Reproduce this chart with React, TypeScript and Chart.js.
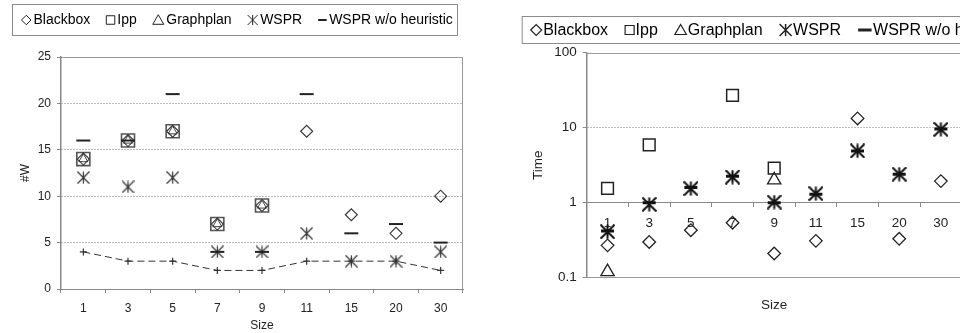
import React, { useEffect, useRef } from "react";
import { Chart, registerables } from "chart.js";

Chart.register(...registerables);

const FONT = "'Liberation Sans', Arial, Helvetica, sans-serif";
Chart.defaults.font.family = FONT;

// ---- shared categories / names ----
const sizeLabels = ["1", "3", "5", "7", "9", "11", "15", "20", "30"];
const seriesNames = ["Blackbox", "Ipp", "Graphplan", "WSPR", "WSPR w/o heuristic"];

// ---- left chart: #W ----
const wBlackbox = [14, 16, 17, 7, 9, 17, 8, 6, 10];
const wIpp = [14, 16, 17, 7, 9, null, null, null, null];
const wGraphplan = [14, 16, 17, 7, 9, null, null, null, null];
const wWSPR = [12, 11, 12, 4, 4, 6, 3, 3, 4];
const wWSPRNoHeur = [16, 16, 21, 4, 4, 21, 6, 7, 5];
const wLowerBound = [4, 3, 3, 2, 2, 3, 3, 3, 2];
const wTickMin = 0;
const wTickMax = 25;
const wTickStep = 5;

// ---- right chart: Time (log) ----
const tBlackbox = [0.27, 0.3, 0.43, 0.54, 0.21, 0.31, 13.3, 0.33, 1.94];
const tIpp = [1.55, 5.9, null, 27, 2.9, null, null, null, null];
const tGraphplan = [0.12, null, null, null, 2.0, null, null, null, null];
const tWSPR = [0.41, 0.95, 1.54, 2.2, 1.02, 1.32, 4.9, 2.4, 9.5];
const tWSPRNoHeur = [0.42, 1.0, 1.6, 2.25, 1.0, 1.3, 4.9, 2.4, 9.6];
const tTicks = [0.1, 1, 10, 100];

function makeAsterisk(size: number, lw: number, color: string) {
  const c = document.createElement("canvas");
  c.width = size;
  c.height = size;
  const ctx = c.getContext("2d")!;
  ctx.strokeStyle = color;
  ctx.lineWidth = lw;
  const m = 0.5;
  ctx.beginPath();
  ctx.moveTo(size / 2, m);
  ctx.lineTo(size / 2, size - m);
  ctx.moveTo(m, m);
  ctx.lineTo(size - m, size - m);
  ctx.moveTo(size - m, m);
  ctx.lineTo(m, size - m);
  ctx.stroke();
  return c;
}

function drawMarker(ctx: CanvasRenderingContext2D, kind: string, x: number, y: number, s: number, lw: number, color: string) {
  const h = s / 2;
  ctx.save();
  ctx.strokeStyle = color;
  ctx.lineWidth = lw;
  ctx.beginPath();
  if (kind === "diamond") {
    ctx.moveTo(x - h, y);
    ctx.lineTo(x, y - h);
    ctx.lineTo(x + h, y);
    ctx.lineTo(x, y + h);
    ctx.closePath();
  } else if (kind === "square") {
    ctx.rect(x - h, y - h, s, s);
  } else if (kind === "triangle") {
    const th = s * 0.87;
    ctx.moveTo(x, y - th * 0.55);
    ctx.lineTo(x + h, y + th * 0.45);
    ctx.lineTo(x - h, y + th * 0.45);
    ctx.closePath();
  } else if (kind === "asterisk") {
    ctx.moveTo(x, y - h);
    ctx.lineTo(x, y + h);
    ctx.moveTo(x - h, y - h);
    ctx.lineTo(x + h, y + h);
    ctx.moveTo(x + h, y - h);
    ctx.lineTo(x - h, y + h);
  } else if (kind === "dash") {
    ctx.moveTo(x - h, y);
    ctx.lineTo(x + h, y);
  }
  ctx.stroke();
  ctx.restore();
}

type LegendCfg = {
  left: number;
  top: number;
  width: number;
  height: number;
  padLeft: number;
  fontSize: number;
  markerGap: number;
  itemGap: number;
  items: { text: string; kind: string; size: number; lw: number }[];
};

function makeLegendPlugin(cfg: LegendCfg) {
  return {
    id: "boxLegend",
    afterDraw(chart: any) {
      const ctx: CanvasRenderingContext2D = chart.ctx;
      ctx.save();
      ctx.strokeStyle = "#8c8c8c";
      ctx.lineWidth = 1;
      ctx.strokeRect(cfg.left + 0.5, cfg.top + 0.5, cfg.width, cfg.height);
      ctx.font = `${cfg.fontSize}px ${FONT}`;
      ctx.textBaseline = "middle";
      ctx.textAlign = "left";
      ctx.fillStyle = "#000";
      const cy = cfg.top + cfg.height / 2 + 0.5;
      let x = cfg.left + cfg.padLeft;
      for (const it of cfg.items) {
        drawMarker(ctx, it.kind, x + it.size / 2, cy, it.size, it.lw, "#222");
        x += it.size + cfg.markerGap;
        ctx.fillText(it.text, x, cy + 0.5);
        x += ctx.measureText(it.text).width + cfg.itemGap;
      }
      ctx.restore();
    },
  };
}

function makeFramePlugin(sides: string[]) {
  return {
    id: "frame",
    beforeDatasetsDraw(chart: any) {
      const { left, right, top, bottom } = chart.chartArea;
      const ctx: CanvasRenderingContext2D = chart.ctx;
      ctx.save();
      ctx.strokeStyle = "#999";
      ctx.lineWidth = 1;
      ctx.beginPath();
      if (sides.includes("top")) {
        ctx.moveTo(left, Math.round(top) + 0.5);
        ctx.lineTo(right, Math.round(top) + 0.5);
      }
      if (sides.includes("right")) {
        ctx.moveTo(Math.round(right) - 0.5, top);
        ctx.lineTo(Math.round(right) - 0.5, bottom);
      }
      if (sides.includes("bottom")) {
        ctx.moveTo(left, Math.round(bottom) - 0.5);
        ctx.lineTo(right, Math.round(bottom) - 0.5);
      }
      ctx.stroke();
      ctx.restore();
    },
  };
}

const transparent = "rgba(0,0,0,0)";

export default function App() {
  const leftRef = useRef<HTMLCanvasElement>(null);
  const rightRef = useRef<HTMLCanvasElement>(null);

  useEffect(() => {
    const starL = makeAsterisk(13, 1.2, "#333");
    const starR = makeAsterisk(15, 2, "#111");

    const pt = (data: any[], label: string, style: any, radius: number, color: string, bw: number) => ({
      label,
      data,
      showLine: false,
      pointStyle: style,
      pointRadius: radius,
      pointHoverRadius: radius,
      pointBorderColor: color,
      pointBackgroundColor: transparent,
      pointBorderWidth: bw,
      borderColor: color,
      backgroundColor: transparent,
    });

    const left = new Chart(leftRef.current!, {
      type: "line",
      data: {
        labels: sizeLabels,
        datasets: [
          pt(wWSPRNoHeur, seriesNames[4], "line", 7, "#222", 2),
          pt(wWSPR, seriesNames[3], starL, 6, "#333", 1),
          pt(wBlackbox, seriesNames[0], "rectRot", 6, "#333", 1.1),
          pt(wGraphplan, seriesNames[2], "triangle", 5.2, "#444", 1),
          pt(wIpp, seriesNames[1], "rect", 9.2, "#555", 1.6),
          {
            label: "Lower bound",
            data: wLowerBound,
            showLine: true,
            borderColor: "#333",
            borderWidth: 1,
            borderDash: [7, 4],
            tension: 0,
            fill: false,
            pointStyle: "cross",
            pointRadius: 3.5,
            pointHoverRadius: 3.5,
            pointBorderColor: "#333",
            pointBorderWidth: 1.2,
          },
        ],
      },
      options: {
        animation: false,
        responsive: false,
        maintainAspectRatio: false,
        events: [],
        layout: { padding: { top: 57, right: 17, left: 0, bottom: 0 } },
        plugins: { legend: { display: false }, tooltip: { enabled: false } },
        scales: {
          x: {
            type: "category",
            offset: true,
            grid: { display: true, drawOnChartArea: false, drawTicks: true, tickLength: 4, offset: true, color: "#888", tickColor: "#888" },
            border: { display: true, color: "#888", width: 1 },
            ticks: { font: { size: 12 }, color: "#222", padding: 8, maxRotation: 0, autoSkip: false },
            title: { display: true, text: "Size", font: { size: 12 }, color: "#222", padding: { top: 0, bottom: 0 } },
            afterFit: (s: any) => {
              s.height = 44;
            },
          },
          y: {
            min: wTickMin,
            max: wTickMax,
            ticks: { stepSize: wTickStep, font: { size: 12 }, color: "#222", padding: 6 },
            grid: {
              display: true,
              drawTicks: true,
              tickLength: 4,
              tickColor: "#888",
              color: (c: any) => (c.tick && (c.tick.value === wTickMin || c.tick.value === wTickMax) ? transparent : "#7a7a7a"),
            },
            border: { display: true, color: "#888", width: 1.5, dash: [1, 2] },
            title: { display: true, text: "#W", font: { size: 12 }, color: "#222", padding: { top: 18, bottom: 0 } },
            afterFit: (s: any) => {
              s.width = 61;
            },
          },
        },
      },
      plugins: [
        makeFramePlugin(["top", "right"]),
        makeLegendPlugin({
          left: 12,
          top: 4,
          width: 445,
          height: 31,
          padLeft: 9.5,
          fontSize: 14,
          markerGap: 2.5,
          itemGap: 16,
          items: [
            { text: seriesNames[0], kind: "diamond", size: 9.5, lw: 1 },
            { text: seriesNames[1], kind: "square", size: 8.5, lw: 1 },
            { text: seriesNames[2], kind: "triangle", size: 11, lw: 1 },
            { text: seriesNames[3], kind: "asterisk", size: 10, lw: 1 },
            { text: seriesNames[4], kind: "dash", size: 8.5, lw: 2 },
          ],
        }),
      ],
    } as any);

    const right = new Chart(rightRef.current!, {
      type: "line",
      data: {
        labels: sizeLabels,
        datasets: [
          pt(tWSPRNoHeur, seriesNames[4], "line", 6.5, "#111", 3),
          pt(tWSPR, seriesNames[3], starR, 6, "#111", 2),
          pt(tBlackbox, seriesNames[0], "rectRot", 6.3, "#222", 1.3),
          pt(tGraphplan, seriesNames[2], "triangle", 7.7, "#222", 1.3),
          pt(tIpp, seriesNames[1], "rect", 8.3, "#222", 1.5),
        ],
      },
      options: {
        animation: false,
        responsive: false,
        maintainAspectRatio: false,
        events: [],
        layout: { padding: { top: 52.7, right: 78.3, left: 0, bottom: 55.3 } },
        plugins: { legend: { display: false }, tooltip: { enabled: false } },
        scales: {
          x: {
            type: "category",
            position: { y: 1 },
            offset: true,
            grid: { display: true, drawOnChartArea: false, drawTicks: true, tickLength: 4, offset: true, color: "#888", tickColor: "#888" },
            border: { display: true, color: "#888", width: 1 },
            ticks: { font: { size: 13.5 }, color: "#222", padding: 8.5, maxRotation: 0, autoSkip: false },
            title: { display: true, text: "Size", font: { size: 13.5 }, color: "#222", padding: { top: 57, bottom: 0 } },
          },
          y: {
            type: "logarithmic",
            min: tTicks[0],
            max: tTicks[tTicks.length - 1],
            afterBuildTicks: (s: any) => {
              s.ticks = tTicks.map((v) => ({ value: v }));
            },
            ticks: { font: { size: 13.5 }, color: "#222", padding: 6, callback: (v: any) => String(v) },
            grid: {
              display: true,
              drawTicks: true,
              tickLength: 4,
              tickColor: "#888",
              color: (c: any) => (c.tick && c.tick.value === 10 ? "#7a7a7a" : transparent),
            },
            border: { display: true, color: "#888", width: 1.5, dash: [1, 2] },
            title: { display: true, text: "Time", font: { size: 13.5 }, color: "#222", padding: { top: 50, bottom: 0 } },
            afterFit: (s: any) => {
              s.width = 106.7;
            },
          },
        },
      },
      plugins: [
        makeFramePlugin(["top", "bottom"]),
        makeLegendPlugin({
          left: 41.7,
          top: 16,
          width: 520,
          height: 27,
          padLeft: 9,
          fontSize: 16,
          markerGap: 1.5,
          itemGap: 17,
          items: [
            { text: seriesNames[0], kind: "diamond", size: 11, lw: 1.2 },
            { text: seriesNames[1], kind: "square", size: 9, lw: 1.2 },
            { text: seriesNames[2], kind: "triangle", size: 11.5, lw: 1.2 },
            { text: seriesNames[3], kind: "asterisk", size: 12, lw: 1.5 },
            { text: seriesNames[4], kind: "dash", size: 13.5, lw: 3 },
          ],
        }),
      ],
    } as any);

    return () => {
      left.destroy();
      right.destroy();
    };
  }, []);

  return (
    <div
      style={{
        position: "fixed",
        left: 0,
        top: 0,
        width: 960,
        height: 333,
        overflow: "hidden",
        background: "#fff",
      }}
    >
      <canvas
        ref={leftRef}
        width={480}
        height={333}
        style={{ position: "absolute", left: 0, top: 0, width: 480, height: 333, display: "block" }}
      />
      <canvas
        ref={rightRef}
        width={560}
        height={333}
        style={{ position: "absolute", left: 480, top: 0, width: 560, height: 333, display: "block" }}
      />
    </div>
  );
}
